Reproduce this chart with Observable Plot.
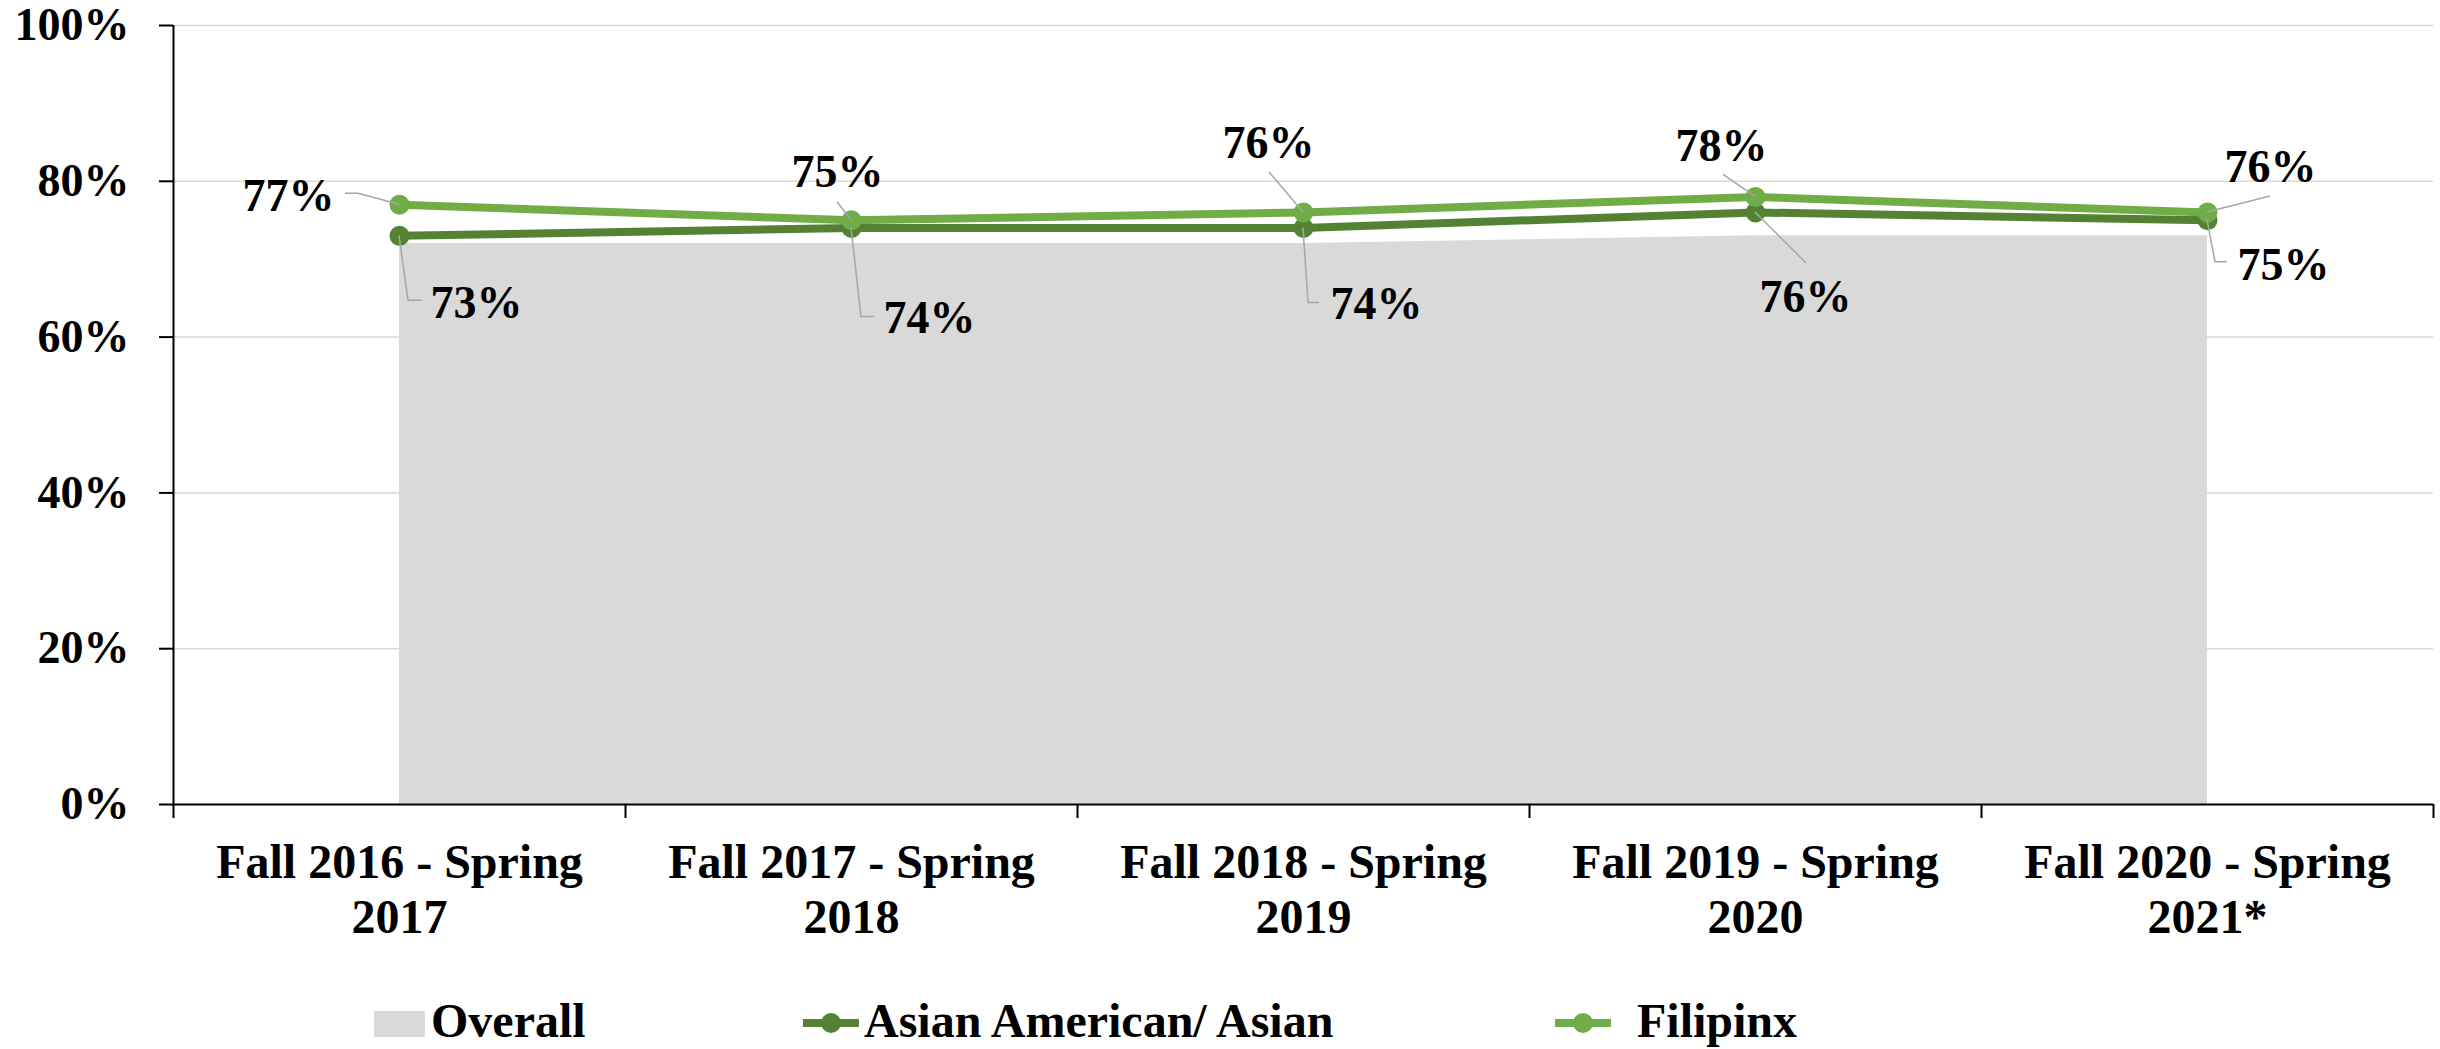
<!DOCTYPE html>
<html><head><meta charset="utf-8">
<script src="https://cdn.jsdelivr.net/npm/d3@7"></script>
<script src="https://cdn.jsdelivr.net/npm/@observablehq/plot@0.6"></script>
<style>
body{margin:0;background:#fff;}
#wrap{position:relative;width:2440px;height:1049px;font-family:"Liberation Serif","Times New Roman",serif;font-weight:bold;overflow:hidden;}
#legend{position:absolute;left:0;top:1000px;width:2440px;height:49px;}
.sw{position:absolute;display:block;}
.lt{position:absolute;font-size:48px;line-height:48px;top:-3px;color:#000;white-space:nowrap;}
</style></head><body><div id="wrap"><div id="chart"></div><div id="legend"></div></div>
<script>
// ---- data ----
const categories = ["Fall 2016 - Spring\n2017", "Fall 2017 - Spring\n2018", "Fall 2018 - Spring\n2019", "Fall 2019 - Spring\n2020", "Fall 2020 - Spring\n2021*"];
const overall = [0.72, 0.72, 0.72, 0.73, 0.73];
const asian = [0.73, 0.74, 0.74, 0.76, 0.75];
const filipinx = [0.77, 0.75, 0.76, 0.78, 0.76];
const seriesNames = ["Overall", "Asian American/ Asian", "Filipinx"];
const yTicks = [0, 0.2, 0.4, 0.6, 0.8, 1];

// ---- styles / layout ----
const C = {overall: "#d9d9d9", asian: "#548235", filipinx: "#70ad47", leader: "#a6a6a6", grid: "#d9d9d9"};
// label offsets (px) relative to each point: [dx, dy of baseline]
const filLabelOff = [[-111, 6], [-14, -33], [-35, -54], [-34, -36], [63, -30]];
const asLabelOff = [[77, 82], [78, 105], [73, 91], [50, 100], [76, 60]];
// leader polylines (px) relative to each point
const filLeaders = [[[-54, -11], [-41, -11], [0, 0]], [[-14, -18], [0, 0]], [[-34, -40], [0, 0]], [[-32, -22], [0, 0]], [[63, -16], [0, 0]]];
const asLeaders = [[[0, 0], [9, 65], [23, 65]], [[0, 0], [10, 89], [23, 89]], [[0, 0], [5, 75], [16, 75]], [[0, 0], [51, 51]], [[0, 0], [8, 42], [20, 42]]];

const rows = vals => vals.map((v, i) => ({i, pos: i + 0.5, v}));
const ovRows = rows(overall), asRows = rows(asian), fiRows = rows(filipinx);
const pct = v => Math.round(v * 100) + "%";

function leaderMark(data, paths) {
  return (index, scales) => {
    const g = d3.create("svg:g");
    data.forEach((d, k) => {
      const px = scales.x(d.pos), py = scales.y(d.v);
      g.append("polyline")
        .attr("points", paths[k].map(([a, b]) => `${px + a},${py + b}`).join(" "))
        .attr("fill", "none").attr("stroke", C.leader).attr("stroke-width", 1.5);
    });
    return g.node();
  };
}
function labelMarks(data, offs) {
  return data.map((d, k) => Plot.text([d], {
    x: "pos", y: "v", text: dd => pct(dd.v), dx: offs[k][0], dy: offs[k][1],
    textAnchor: "middle", lineAnchor: "bottom", fontSize: 46, fill: "black"
  }));
}

const chart = Plot.plot({
  width: 2440, height: 1000,
  marginLeft: 173, marginRight: 7, marginTop: 25, marginBottom: 196,
  style: {fontFamily: "'Liberation Serif','Times New Roman',serif", fontWeight: "bold", fontSize: "46px", background: "white", overflow: "visible", color: "black"},
  x: {type: "linear", domain: [0, categories.length], label: null},
  y: {domain: [0, 1], label: null},
  marks: [
    Plot.gridY(yTicks.slice(1), {stroke: C.grid, strokeOpacity: 1, strokeWidth: 1.5}),
    Plot.areaY(ovRows, {x: "pos", y: "v", fill: C.overall}),
    Plot.ruleY([0], {stroke: "black", strokeWidth: 2}),
    Plot.ruleX([0], {y1: 0, y2: 1, stroke: "black", strokeWidth: 2}),
    Plot.axisY(yTicks, {tickSize: 14, tickPadding: 30, tickFormat: pct, fontSize: 46, stroke: "black", strokeWidth: 2, label: null}),
    Plot.axisX(d3.range(categories.length + 1), {tickSize: 14, tickFormat: () => "", stroke: "black", strokeWidth: 2, label: null}),
    Plot.axisX(d3.range(categories.length).map(i => i + 0.5), {tickSize: 0, tickPadding: 34, tickFormat: d => categories[Math.floor(d)], fontSize: 48, lineHeight: 1.15, label: null}),
    Plot.line(asRows, {x: "pos", y: "v", stroke: C.asian, strokeWidth: 8}),
    Plot.dot(asRows, {x: "pos", y: "v", r: 10, fill: C.asian}),
    Plot.line(fiRows, {x: "pos", y: "v", stroke: C.filipinx, strokeWidth: 8}),
    Plot.dot(fiRows, {x: "pos", y: "v", r: 10, fill: C.filipinx}),
    leaderMark(fiRows, filLeaders),
    leaderMark(asRows, asLeaders),
    ...labelMarks(fiRows, filLabelOff),
    ...labelMarks(asRows, asLabelOff)
  ]
});
document.getElementById("chart").appendChild(chart);

// ---- legend (HTML below the SVG) ----
const legend = document.getElementById("legend");
const items = [
  {name: seriesNames[0], type: "box", color: C.overall, sx: 374, tx: 431},
  {name: seriesNames[1], type: "line", color: C.asian, sx: 803, tx: 864},
  {name: seriesNames[2], type: "line", color: C.filipinx, sx: 1555, tx: 1637}
];
for (const it of items) {
  const svg = d3.create("svg").attr("class", "sw").attr("width", 56).attr("height", 30)
    .style("left", it.sx + "px").style("top", "9px");
  if (it.type === "box") {
    svg.append("rect").attr("x", 0).attr("y", 2).attr("width", 51).attr("height", 26).attr("fill", it.color);
  } else {
    svg.append("line").attr("x1", 0).attr("x2", 56).attr("y1", 14).attr("y2", 14).attr("stroke", it.color).attr("stroke-width", 8);
    svg.append("circle").attr("cx", 28).attr("cy", 14).attr("r", 10).attr("fill", it.color);
  }
  legend.appendChild(svg.node());
  const t = document.createElement("span");
  t.className = "lt"; t.textContent = it.name; t.style.left = it.tx + "px";
  legend.appendChild(t);
}
</script></body></html>
